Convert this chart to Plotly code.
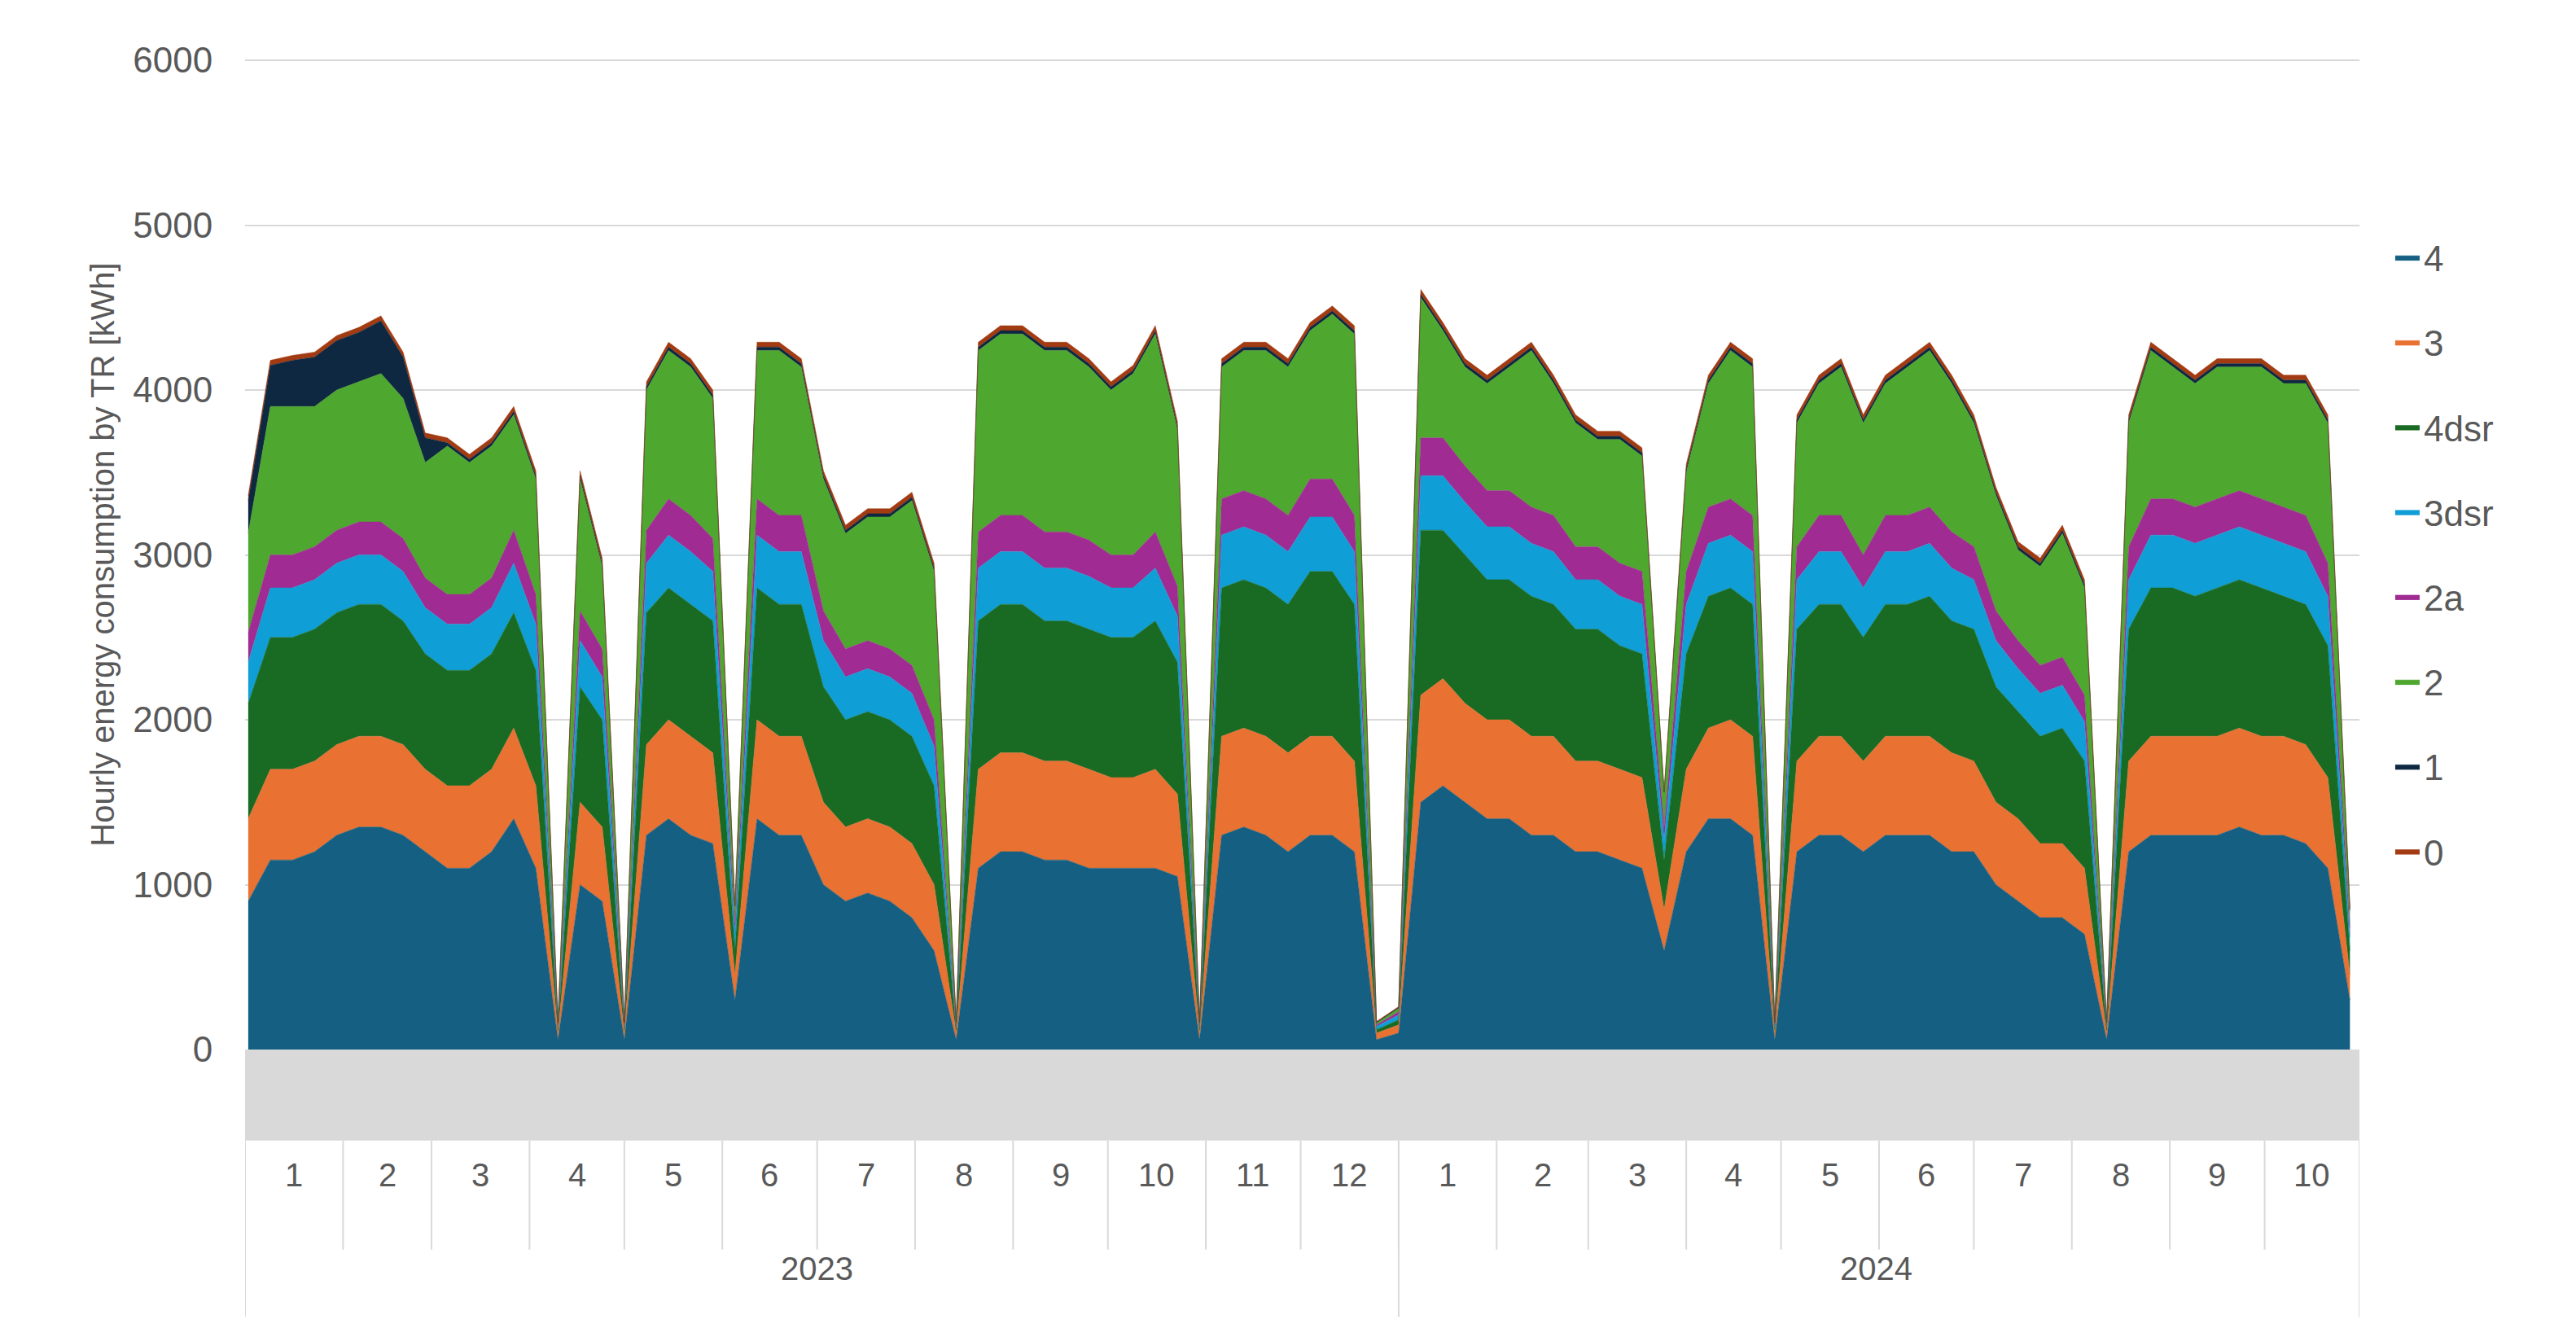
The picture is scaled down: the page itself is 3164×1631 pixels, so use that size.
import pandas as pd
import plotly.graph_objects as go

# weekly values (week starting Monday), Jan 2023 .. Oct 2024, kWh
s4 = [900, 1150, 1150, 1200, 1300,
      1350, 1350, 1300, 1200,
      1100, 1100, 1200, 1400,
      1100, 60, 1000, 900,
      60, 1300, 1400, 1300, 1250,
      300, 1400, 1300, 1300,
      1000, 900, 950, 900, 800,
      600, 60, 1100, 1200,
      1200, 1150, 1150, 1100,
      1100, 1100, 1100, 1050, 60,
      1300, 1350, 1300, 1200,
      1300, 1300, 1200, 60,
      100, 1500, 1600, 1500, 1400,
      1400, 1300, 1300, 1200,
      1200, 1150, 1100, 600,
      1200, 1400, 1400, 1300, 60,
      1200, 1300, 1300, 1200,
      1300, 1300, 1300, 1200,
      1200, 1000, 900, 800, 800,
      700, 60, 1200, 1300,
      1300, 1300, 1300, 1350, 1300,
      1300, 1250, 1100, 300]
s3 = [500, 550, 550, 550, 550,
      550, 550, 550, 500,
      500, 500, 500, 550,
      500, 40, 500, 450,
      40, 550, 600, 600, 550,
      150, 600, 600, 600,
      500, 450, 450, 450, 450,
      400, 40, 600, 600,
      600, 600, 600, 600,
      550, 550, 600, 500, 40,
      600, 600, 600, 600,
      600, 600, 550, 40,
      50, 650, 650, 600, 600,
      600, 600, 600, 550,
      550, 550, 550, 250,
      500, 550, 600, 600, 40,
      550, 600, 600, 550,
      600, 600, 600, 600,
      550, 500, 500, 450, 450,
      400, 40, 550, 600,
      600, 600, 600, 600, 600,
      600, 600, 550, 150]
s4dsr = [700, 800, 800, 800, 800,
         800, 800, 750, 700,
         700, 700, 700, 700,
         700, 20, 700, 650,
         20, 800, 800, 800, 800,
         150, 800, 800, 800,
         700, 650, 650, 650, 650,
         600, 20, 900, 900,
         900, 850, 850, 850,
         850, 850, 900, 800, 20,
         900, 900, 900, 900,
         1000, 1000, 950, 20,
         30, 1000, 900, 900, 850,
         850, 850, 800, 800,
         800, 750, 750, 300,
         700, 800, 800, 800, 20,
         800, 800, 800, 750,
         800, 800, 850, 800,
         800, 700, 650, 650, 700,
         650, 20, 800, 900,
         900, 850, 900, 900, 900,
         850, 850, 800, 150]
s3dsr = [250, 300, 300, 300, 300,
         300, 300, 300, 280,
         280, 280, 280, 300,
         280, 20, 280, 260,
         20, 300, 320, 320, 300,
         100, 320, 320, 320,
         280, 260, 260, 260, 260,
         240, 20, 320, 320,
         320, 320, 320, 320,
         300, 300, 320, 280, 20,
         320, 320, 320, 320,
         330, 330, 320, 20,
         30, 330, 330, 320, 320,
         320, 320, 320, 300,
         300, 300, 300, 120,
         300, 320, 320, 320, 20,
         300, 320, 320, 300,
         320, 320, 320, 320,
         300, 280, 260, 260, 260,
         240, 20, 300, 320,
         320, 320, 320, 320, 320,
         320, 320, 300, 80]
s2a = [180, 200, 200, 200, 200,
       200, 200, 200, 180,
       180, 180, 180, 200,
       180, 10, 180, 170,
       10, 200, 220, 220, 200,
       60, 220, 220, 220,
       180, 170, 170, 170, 170,
       160, 10, 220, 220,
       220, 220, 220, 220,
       200, 200, 220, 180, 10,
       220, 220, 220, 220,
       230, 230, 220, 10,
       20, 230, 230, 220, 220,
       220, 220, 220, 200,
       200, 200, 200, 80,
       200, 220, 220, 220, 10,
       200, 220, 220, 200,
       220, 220, 220, 220,
       200, 180, 170, 170, 170,
       160, 10, 200, 220,
       220, 220, 220, 220, 220,
       220, 220, 200, 60]
s2 = [600, 900, 900, 850, 850,
      850, 900, 850, 700,
      900, 800, 800, 700,
      700, 10, 800, 500,
      10, 850, 900, 900, 850,
      100, 900, 1000, 900,
      800, 700, 750, 800, 1000,
      900, 10, 1100, 1100,
      1100, 1100, 1100, 1050,
      1000, 1100, 1200, 950, 10,
      800, 850, 900, 900,
      900, 1000, 1100, 10,
      20, 850, 650, 600, 650,
      750, 950, 800, 750,
      650, 750, 700, 200,
      600, 750, 900, 900, 10,
      750, 800, 900, 800,
      800, 900, 950, 900,
      750, 700, 550, 600, 750,
      650, 10, 750, 900,
      800, 750, 800, 750, 800,
      750, 800, 850, 100]
s1 = [200, 250, 280, 300, 300,
      300, 320, 250, 150,
      20, 20, 20, 20,
      20, 5, 20, 20,
      5, 20, 20, 20, 20,
      10, 20, 20, 20,
      20, 20, 20, 20, 20,
      20, 5, 20, 20,
      20, 20, 20, 20,
      20, 20, 20, 20, 5,
      20, 20, 20, 20,
      20, 20, 20, 5,
      5, 20, 20, 20, 20,
      20, 20, 20, 20,
      20, 20, 20, 10,
      20, 20, 20, 20, 5,
      20, 20, 20, 20,
      20, 20, 20, 20,
      20, 20, 20, 20, 20,
      20, 5, 20, 20,
      20, 20, 20, 20, 20,
      20, 20, 20, 10]
s0 = [30, 30, 30, 30, 30,
      30, 30, 30, 30,
      30, 30, 30, 30,
      30, 5, 30, 30,
      5, 30, 30, 30, 30,
      10, 30, 30, 30,
      30, 30, 30, 30, 30,
      30, 5, 30, 30,
      30, 30, 30, 30,
      30, 30, 30, 30, 5,
      30, 30, 30, 30,
      30, 30, 30, 5,
      5, 30, 30, 30, 30,
      30, 30, 30, 30,
      30, 30, 30, 10,
      30, 30, 30, 30, 5,
      30, 30, 30, 30,
      30, 30, 30, 30,
      30, 30, 30, 30, 30,
      30, 5, 30, 30,
      30, 30, 30, 30, 30,
      30, 30, 30, 10]

hour_labels = ["0", "14", "4", "18", "8", "22", "14", "4", "18", "8", "22", "12", "2",
               "16", "6", "20", "10", "0", "14", "4", "18", "8", "22", "12", "3", "17",
               "7", "21", "11", "1", "17", "7", "21", "11", "1", "15", "5", "19", "9",
               "23", "13", "3", "17"]
months_2023 = list(range(1, 13))
months_2024 = list(range(1, 11))

weeks = pd.date_range("2023-01-02", periods=len(s4), freq="W-MON")

series = [("4", s4, "#156082"), ("3", s3, "#E97132"), ("4dsr", s4dsr, "#196B24"),
          ("3dsr", s3dsr, "#0F9ED5"), ("2a", s2a, "#A02B93"), ("2", s2, "#4EA72E"),
          ("1", s1, "#0E2841"), ("0", s0, "#A33B12")]

fig = go.Figure()
for name, vals, col in series:
    fig.add_trace(go.Scatter(
        x=weeks, y=vals, name=name, stackgroup="one", mode="lines", legendgroup=name,
        line=dict(width=0.5, color=col), fillcolor=col,
    ))

x0, x1 = pd.Timestamp("2023-01-01"), pd.Timestamp("2024-10-31")
span = x1 - x0

# hour-of-day tick labels (Excel skips most of them), as a text trace below the axis
hour_x = [x0 + span * (i * 60.5 / 2597) for i in range(len(hour_labels))]
fig.add_trace(go.Scatter(
    x=hour_x, y=[-400] * len(hour_labels), text=hour_labels, mode="text",
    textfont=dict(size=40, color="#595959"), cliponaxis=False,
    showlegend=False, hoverinfo="skip",
))

shapes = [dict(type="rect", xref="paper", yref="paper", x0=0, x1=1, y0=0, y1=-0.092,
               fillcolor="#D9D9D9", line=dict(width=0), layer="below")]
annotations = []

month_starts = []
for yr, months in [(2023, months_2023), (2024, months_2024)]:
    for m in months:
        start = pd.Timestamp(yr, m, 1)
        end = min(start + pd.offsets.MonthBegin(1), x1)
        month_starts.append(start)
        annotations.append(dict(xref="x", yref="paper", x=start + (end - start) / 2, y=-0.146,
                                text=str(m), showarrow=False, font=dict(size=40, color="#595959")))
for s in month_starts:
    shapes.append(dict(type="line", xref="x", yref="paper", x0=s, x1=s, y0=-0.092, y1=-0.202,
                       line=dict(color="#D9D9D9", width=2)))
for s in [x0, pd.Timestamp("2024-01-01"), x1]:
    shapes.append(dict(type="line", xref="x", yref="paper", x0=s, x1=s, y0=-0.092, y1=-0.27,
                       line=dict(color="#D9D9D9", width=2)))
for yr, mid in [("2023", pd.Timestamp("2023-07-01")), ("2024", pd.Timestamp("2024-05-31"))]:
    annotations.append(dict(xref="x", yref="paper", x=mid, y=-0.241, text=yr,
                            showarrow=False, font=dict(size=40, color="#595959")))

fig.update_layout(
    width=3164, height=1631,
    margin=dict(l=293, r=274, t=65, b=350),
    paper_bgcolor="white", plot_bgcolor="white",
    font=dict(family="Liberation Sans, Arial", color="#595959"),
    xaxis=dict(range=[x0, x1], showticklabels=False, showgrid=False, zeroline=False),
    yaxis=dict(range=[0, 6005], tickvals=[0, 1000, 2000, 3000, 4000, 5000, 6000],
               gridcolor="#D9D9D9", gridwidth=2, zeroline=False, tickfont=dict(size=44),
               ticks="outside", ticklen=30, tickcolor="rgba(0,0,0,0)",
               title=dict(text="Hourly energy consumption by TR [kWh]", font=dict(size=40),
                          standoff=10)),
    legend=dict(traceorder="reversed+grouped", x=1.015, y=0.5, yanchor="middle",
                font=dict(size=44), tracegroupgap=44),
    shapes=shapes, annotations=annotations,
)

fig.write_html("out.html")
